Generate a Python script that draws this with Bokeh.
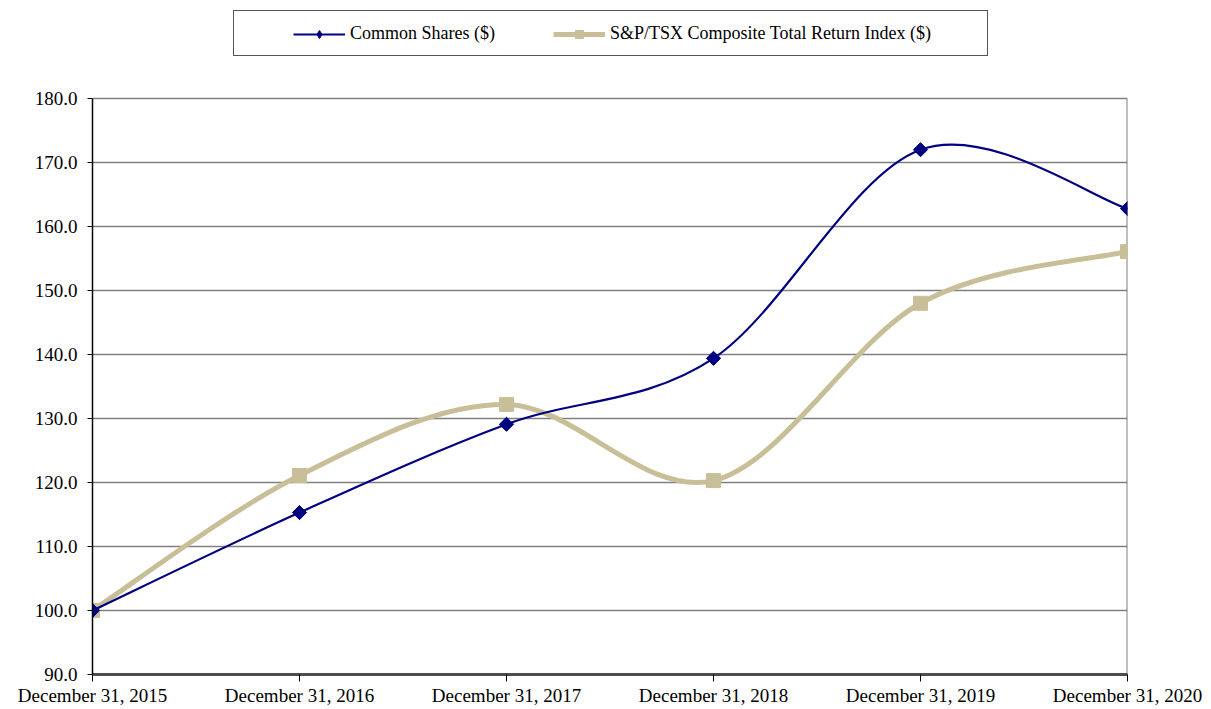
import numpy as np
from bokeh.plotting import figure
from bokeh.models import (ColumnDataSource, FixedTicker, Legend, LegendItem,
                          Range1d, NumeralTickFormatter)
from bokeh.embed import file_html
from bokeh.resources import INLINE

# ---- data ----
dates = ["December 31, 2015", "December 31, 2016", "December 31, 2017",
         "December 31, 2018", "December 31, 2019", "December 31, 2020"]
common_shares = [100.0, 115.3, 129.1, 139.4, 172.0, 162.8]
tsx_index = [100.0, 121.1, 132.2, 120.3, 148.0, 156.1]
y_ticks = [90, 100, 110, 120, 130, 140, 150, 160, 170, 180]
series_names = ["Common Shares ($)", "S&P/TSX Composite Total Return Index ($)"]

NAVY = "#000080"
TAN = "#C8BF98"
FONT = "Liberation Serif"

x = list(range(len(dates)))

# layout (pixels)
W, H = 1211, 709
LEFT, RIGHT, TOP, BOTTOM = 92, 1127, 8, 674     # frame; value axis top sits at 98
AXIS_TOP = 98
px_per_unit = (BOTTOM - AXIS_TOP) / (y_ticks[-1] - y_ticks[0])
y_end = y_ticks[0] + (BOTTOM - TOP) / px_per_unit


def smooth_segments(xs, ys):
    """Bezier segments through the data points (spreadsheet-style smoothing)."""
    n = len(xs)
    seg = dict(x0=[], y0=[], x1=[], y1=[], cx0=[], cy0=[], cx1=[], cy1=[])
    for i in range(n - 1):
        a = max(i - 1, 0)
        b = min(i + 2, n - 1)
        seg["x0"].append(xs[i]); seg["y0"].append(ys[i])
        seg["x1"].append(xs[i + 1]); seg["y1"].append(ys[i + 1])
        seg["cx0"].append(xs[i] + (xs[i + 1] - xs[a]) / 6.0)
        seg["cy0"].append(ys[i] + (ys[i + 1] - ys[a]) / 6.0)
        seg["cx1"].append(xs[i + 1] - (xs[b] - xs[i]) / 6.0)
        seg["cy1"].append(ys[i + 1] - (ys[b] - ys[i]) / 6.0)
    return ColumnDataSource(seg)


p = figure(width=W, height=H, output_backend="svg", toolbar_location=None,
           x_range=Range1d(x[0], x[-1]), y_range=Range1d(y_ticks[0], y_end),
           min_border_left=LEFT, min_border_right=W - RIGHT,
           min_border_top=TOP, min_border_bottom=H - BOTTOM)

# axes
p.xaxis.ticker = FixedTicker(ticks=x)
p.xaxis.major_label_overrides = {i: d for i, d in enumerate(dates)}
p.xaxis.major_tick_in = 0
p.xaxis.major_tick_out = 7
p.xaxis.minor_tick_line_color = None
p.xaxis.axis_line_color = "#4d4d4d"
p.xaxis.axis_line_width = 3
p.xaxis.major_tick_line_color = "black"
p.xaxis.major_label_standoff = 3
p.xaxis.major_label_text_font = FONT
p.xaxis.major_label_text_font_size = "19px"
p.xaxis.major_label_text_color = "black"

p.yaxis.ticker = FixedTicker(ticks=y_ticks)
p.yaxis.bounds = (y_ticks[0], y_ticks[-1])
p.yaxis.formatter = NumeralTickFormatter(format="0.0")
p.yaxis.major_tick_in = 0
p.yaxis.major_tick_out = 5
p.yaxis.minor_tick_line_color = None
p.yaxis.axis_line_color = "black"
p.yaxis.axis_line_width = 1.5
p.yaxis.major_tick_line_color = "black"
p.yaxis.major_label_standoff = 10
p.yaxis.major_label_text_font = FONT
p.yaxis.major_label_text_font_size = "19px"
p.yaxis.major_label_text_color = "black"

p.xgrid.visible = False
p.ygrid.grid_line_color = "#808080"
p.ygrid.grid_line_width = 1.3
p.outline_line_color = None

# right edge of the plot area
p.segment(x0=[x[-1]], y0=[y_ticks[0]], x1=[x[-1]], y1=[y_ticks[-1]],
          line_color="#808080", line_width=2)

# series
tsx_src = smooth_segments(x, tsx_index)
cs_src = smooth_segments(x, common_shares)

p.bezier(x0="x0", y0="y0", x1="x1", y1="y1", cx0="cx0", cy0="cy0",
         cx1="cx1", cy1="cy1", source=tsx_src, line_color=TAN, line_width=5,
         line_cap="round")
tsx_pts = p.scatter(x, tsx_index, marker="square", size=14, color=TAN)

p.bezier(x0="x0", y0="y0", x1="x1", y1="y1", cx0="cx0", cy0="cy0",
         cx1="cx1", cy1="cy1", source=cs_src, line_color=NAVY, line_width=2.2,
         line_cap="round")
cs_pts = p.scatter(x, common_shares, marker="square", angle=np.pi / 4,
                   size=10, color=NAVY)

# legend proxies
cs_leg_line = p.line(x=[np.nan], y=[np.nan], line_color=NAVY, line_width=2.2)
cs_leg_mark = p.scatter(x=[np.nan], y=[np.nan], marker="diamond", size=13,
                        color=NAVY)
tsx_leg_line = p.line(x=[np.nan], y=[np.nan], line_color=TAN, line_width=5)
blank_line = p.line(x=[np.nan], y=[np.nan], line_alpha=0)

# legend frame (box only)
BOX_L, BOX_T, BOX_B = 233, 10, 56
frame_legend = Legend(items=[LegendItem(label=" ", renderers=[blank_line])],
                      orientation="horizontal",
                      location=(BOX_L - LEFT, BOTTOM - BOX_B),
                      border_line_color="#555555", border_line_width=1.5,
                      border_line_alpha=1, background_fill_color="white",
                      background_fill_alpha=1,
                      padding=12, margin=0,
                      glyph_width=52, glyph_height=20, label_standoff=5,
                      label_width=672, label_height=20,
                      label_text_font=FONT, label_text_font_size="18px")
p.add_layout(frame_legend)

GLYPH_L = 293
legend = Legend(items=[LegendItem(label=series_names[0], renderers=[cs_leg_line, cs_leg_mark]),
                       LegendItem(label=series_names[1], renderers=[tsx_leg_line, tsx_pts])],
                orientation="horizontal",
                location=(GLYPH_L - 12 - LEFT, BOTTOM - BOX_B),
                border_line_alpha=0, background_fill_alpha=0,
                padding=12, margin=0, glyph_width=52, glyph_height=20,
                label_standoff=5, label_height=20, spacing=58,
                label_text_font=FONT, label_text_font_size="18px",
                label_text_color="black")
p.add_layout(legend)

open("out.html", "w").write(file_html(p, INLINE))
